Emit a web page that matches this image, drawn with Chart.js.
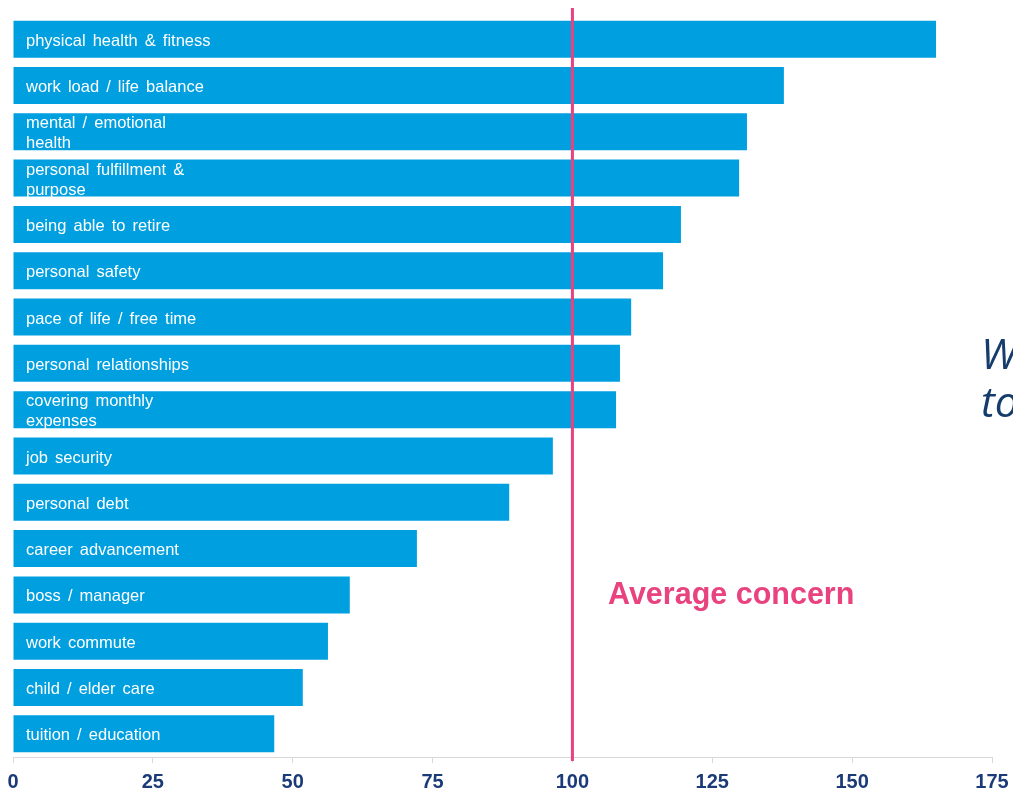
<!DOCTYPE html>
<html>
<head>
<meta charset="utf-8">
<script src="https://cdn.jsdelivr.net/npm/chart.js@4/dist/chart.umd.min.js"></script>
<style>
  html, body { margin: 0; padding: 0; background: #fff; }
  #wrap { width: 1013px; height: 795px; position: relative; }
</style>
</head>
<body>
<div id="wrap"><canvas id="concernChart"></canvas></div>
<script>
// categories, top to bottom (line breaks as in the picture)
const categories = [
  ['physical health & fitness'],
  ['work load / life balance'],
  ['mental / emotional', 'health'],
  ['personal fulfillment &', 'purpose'],
  ['being able to retire'],
  ['personal safety'],
  ['pace of life / free time'],
  ['personal relationships'],
  ['covering monthly', 'expenses'],
  ['job security'],
  ['personal debt'],
  ['career advancement'],
  ['boss / manager'],
  ['work commute'],
  ['child / elder care'],
  ['tuition / education']
];
// concern index
const concernValues = [165, 137.8, 131.2, 129.8, 119.4, 116.2, 110.5, 108.5, 107.8, 96.5, 88.7, 72.2, 60.2, 56.3, 51.8, 46.7];
const xTicks = [0, 25, 50, 75, 100, 125, 150, 175];
const averageValue = 100;

const barBlue = '#009fe0';
const pink = '#e8427f';
const navy = '#1b3a78';

// draws the in-bar labels, the average line and the notes
const overlayPlugin = {
  id: 'overlay',
  afterDatasetsDraw(chart) {
    const ctx = chart.ctx;
    const x = chart.scales.x;
    const y = chart.scales.y;
    ctx.save();
    ctx.fillStyle = '#fff';
    ctx.font = '16.5px "Liberation Sans", Arial, sans-serif';
    ctx.wordSpacing = '2.5px';
    ctx.textAlign = 'left';
    ctx.textBaseline = 'middle';
    categories.forEach((lines, i) => {
      const cy = y.getPixelForValue(i) + 2;
      const start = cy - (lines.length - 1) * 10;
      lines.forEach((t, j) => ctx.fillText(t, x.getPixelForValue(0) + 13, start + j * 20));
    });
    ctx.wordSpacing = '0px';

    // average line
    const ax = x.getPixelForValue(averageValue);
    ctx.strokeStyle = pink;
    ctx.lineWidth = 3;
    ctx.beginPath();
    ctx.moveTo(ax, 8);
    ctx.lineTo(ax, 761);
    ctx.stroke();

    ctx.fillStyle = pink;
    ctx.font = 'bold 30.5px "Liberation Sans", Arial, sans-serif';
    ctx.fillText('Average concern', 608, 596);

    // cut-off note at the right edge
    ctx.fillStyle = '#163c6c';
    ctx.font = 'italic 42px "Open Sans", "DejaVu Sans", sans-serif';
    ctx.fillText('W', 981, 357);
    ctx.fillText('to', 981, 405);
    ctx.restore();
  }
};

new Chart(document.getElementById('concernChart'), {
  type: 'bar',
  data: {
    labels: categories,
    datasets: [{
      data: concernValues,
      backgroundColor: barBlue,
      borderWidth: 0,
      barPercentage: 0.8,
      categoryPercentage: 1.0
    }]
  },
  options: {
    indexAxis: 'y',
    responsive: true,
    maintainAspectRatio: false,
    animation: false,
    layout: { padding: { left: 13, right: 21, top: 16, bottom: 0 } },
    plugins: { legend: { display: false }, tooltip: { enabled: false } },
    scales: {
      x: {
        min: 0,
        max: 175,
        afterBuildTicks: (s) => { s.ticks = xTicks.map(v => ({ value: v })); },
        afterFit: (s) => { s.height = 38; s.paddingLeft = 0; s.paddingRight = 0; },
        grid: {
          drawOnChartArea: false,
          drawTicks: true,
          tickLength: 6,
          color: '#d9d9d9'
        },
        border: { display: true, color: '#d9d9d9', width: 1 },
        ticks: {
          color: navy,
          font: { family: '"Liberation Sans", Arial, sans-serif', size: 20, weight: 'bold' },
          padding: 7,
          maxRotation: 0
        }
      },
      y: {
        display: false,
        grid: { display: false }
      }
    }
  },
  plugins: [overlayPlugin]
});
</script>
</body>
</html>
